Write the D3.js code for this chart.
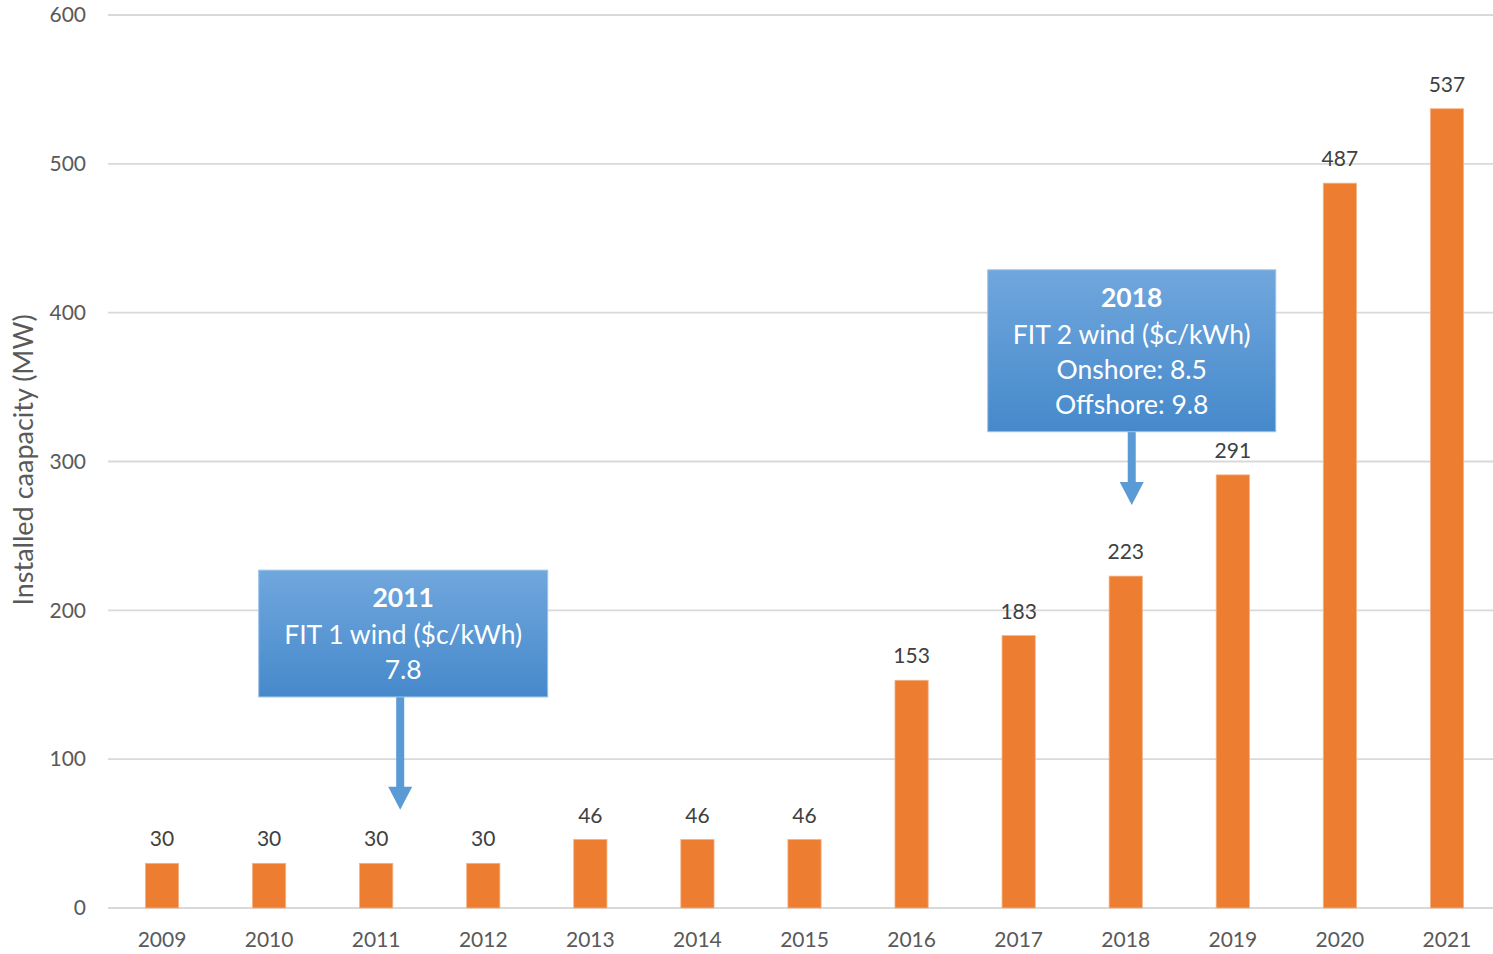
<!DOCTYPE html>
<html>
<head>
<meta charset="utf-8">
<script src="https://cdn.jsdelivr.net/npm/d3@7"></script>
<style>
  body { margin: 0; background: #fff; }
  svg { font-family: Lato, "Open Sans", sans-serif; }
</style>
</head>
<body>
<div id="chart-area"></div>
<script>
// chart data
var years = ["2009", "2010", "2011", "2012", "2013", "2014", "2015",
             "2016", "2017", "2018", "2019", "2020", "2021"];
var capacity = [30, 30, 30, 30, 46, 46, 46, 153, 183, 223, 291, 487, 537];
var yTicks = [0, 100, 200, 300, 400, 500, 600];
var yTitle = "Installed caapacity (MW)";

// annotation boxes
var noteYears = ["2011", "2018"];
var noteLines = [
    ["2011", "FIT 1 wind ($c/kWh)", "7.8"],
    ["2018", "FIT 2 wind ($c/kWh)", "Onshore: 8.5", "Offshore: 9.8"]
];

var width = 1493, height = 954;

var svg = d3.select("#chart-area")
    .append("svg")
        .attr("width", width)
        .attr("height", height);

var defs = svg.append("defs");
var grad = defs.append("linearGradient")
    .attr("id", "boxGrad")
    .attr("x1", 0).attr("y1", 0).attr("x2", 0).attr("y2", 1);
grad.append("stop").attr("offset", "0%").attr("stop-color", "#70A7DD");
grad.append("stop").attr("offset", "100%").attr("stop-color", "#4689CB");

var x = d3.scaleBand()
    .domain(years)
    .range([108.5, 1500.5])
    .paddingInner(0.69)
    .paddingOuter(0.345);

var y = d3.scaleLinear()
    .domain([0, 600])
    .range([908, 15]);

// gridlines
svg.append("g")
    .selectAll("line")
    .data(yTicks)
    .enter().append("line")
        .attr("x1", 108)
        .attr("x2", width)
        .attr("y1", function(d){ return y(d); })
        .attr("y2", function(d){ return y(d); })
        .attr("stroke", "#d9d9d9")
        .attr("stroke-width", 1.8);

// Y axis labels
var yAxisCall = d3.axisLeft(y)
    .tickValues(yTicks)
    .tickSize(0)
    .tickPadding(0);
var yAxis = svg.append("g")
    .attr("transform", "translate(86, 0)")
    .call(yAxisCall);
yAxis.select(".domain").remove();
yAxis.selectAll("text")
    .attr("font-size", "21px")
    .attr("font-family", "Lato, sans-serif")
    .attr("fill", "#595959");

// X axis labels
var xAxisCall = d3.axisBottom(x).tickSize(0).tickPadding(0);
var xAxis = svg.append("g")
    .attr("transform", "translate(0, 932)")
    .call(xAxisCall);
xAxis.select(".domain").remove();
xAxis.selectAll("text")
    .attr("font-size", "21px")
    .attr("font-family", "Lato, sans-serif")
    .attr("fill", "#595959");

// Y title
svg.append("text")
    .attr("transform", "translate(33, 460) rotate(-90)")
    .attr("text-anchor", "middle")
    .attr("font-size", "27px")
    .attr("fill", "#595959")
    .text(yTitle);

// bars
var data = years.map(function(d, i){ return { year: d, value: capacity[i] }; });

svg.append("g")
    .selectAll("rect")
    .data(data)
    .enter().append("rect")
        .attr("x", function(d){ return x(d.year); })
        .attr("y", function(d){ return y(d.value); })
        .attr("width", x.bandwidth())
        .attr("height", function(d){ return y(0) - y(d.value); })
        .attr("fill", "#ED7D31")
        .attr("stroke", "#F4B183")
        .attr("stroke-width", 0.8);

// value labels
svg.append("g")
    .selectAll("text")
    .data(data)
    .enter().append("text")
        .attr("x", function(d){ return x(d.year) + x.bandwidth() / 2; })
        .attr("y", function(d){ return y(d.value) - 17; })
        .attr("text-anchor", "middle")
        .attr("font-size", "21px")
        .attr("fill", "#404040")
        .text(function(d){ return d.value; });

// annotation layout (box top/bottom and arrow tip in MW units)
var noteLayout = [
    { dx: 27, boxW: 289, top: 227, bottom: 141.8, tip: 66, arrowDx: 24 },
    { dx: 6, boxW: 288, top: 428.8, bottom: 320, tip: 270.8, arrowDx: 6 }
];

noteYears.forEach(function(yr, i){
    var L = noteLayout[i];
    var cx = x(yr) + x.bandwidth() / 2 + L.dx;
    var ax = x(yr) + x.bandwidth() / 2 + L.arrowDx;
    var top = y(L.top), bottom = y(L.bottom), tip = y(L.tip);
    var g = svg.append("g").attr("class", "note");

    // arrow
    g.append("rect")
        .attr("x", ax - 4)
        .attr("y", bottom)
        .attr("width", 8)
        .attr("height", tip - bottom - 22)
        .attr("fill", "#5B9BD5");
    g.append("path")
        .attr("d", "M" + (ax - 12) + "," + (tip - 23) + " L" + (ax + 12) + "," + (tip - 23)
            + " L" + ax + "," + tip + " Z")
        .attr("fill", "#5B9BD5");

    // box
    g.append("rect")
        .attr("x", cx - L.boxW / 2)
        .attr("y", top)
        .attr("width", L.boxW)
        .attr("height", bottom - top)
        .attr("fill", "url(#boxGrad)")
        .attr("stroke", "#9DC3E6")
        .attr("stroke-width", 1);

    var lines = noteLines[i];
    var lineH = 35;
    var firstY = top + 37;
    g.selectAll("text")
        .data(lines)
        .enter().append("text")
            .attr("x", cx)
            .attr("y", function(d, j){ return firstY + j * lineH + (j > 0 ? 2 : 0); })
            .attr("text-anchor", "middle")
            .attr("font-size", "26.5px")
            .attr("font-weight", function(d, j){ return j === 0 ? "bold" : "normal"; })
            .attr("fill", "#ffffff")
            .text(function(d){ return d; });
});
</script>
</body>
</html>
